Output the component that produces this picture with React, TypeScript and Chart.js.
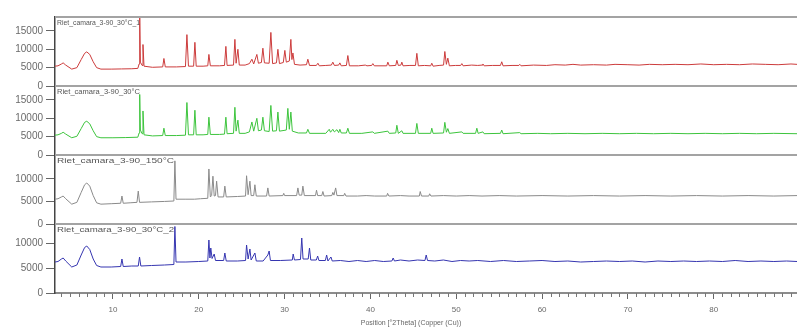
import { useEffect, useRef } from "react";
import { Chart, registerables } from "chart.js";

Chart.register(...registerables);

// ---------- data ----------
const seriesLabels = [
  "Riet_camara_3-90_30°C_1",
  "Riet_camara_3-90_30°C",
  "Riet_camara_3-90_150°C",
  "Riet_camara_3-90_30°C_2",
];
const xAxisTitle = "Position [°2Theta] (Copper (Cu))";
const xMin = 3.25;
const xMax = 89.7;
const xTickValues = [10, 20, 30, 40, 50, 60, 70, 80];
const redTicks = [0, 5000, 10000, 15000];
const greenTicks = [0, 5000, 10000, 15000];
const grayTicks = [0, 5000, 10000];
const blueTicks = [0, 5000, 10000];
const panelMax = [18800, 18800, 15300, 13800];

const red30C1: [number, number][] = [
  [3.25, 5400], [3.6, 5500], [4.0, 6000], [4.2, 6300], [4.5, 5700], [5.2, 4600], [5.8, 5000],
  [6.3, 7200], [6.7, 8900], [6.95, 9300], [7.3, 8600], [7.7, 6600], [8.1, 5000], [8.6, 4600],
  [9.8, 4600], [11.0, 4650], [12.2, 4700], [12.9, 4800], [13.05, 6000], [13.12, 19500], [13.2, 6500],
  [13.4, 5600], [13.5, 11300], [13.62, 5400], [14.6, 5100], [15.8, 5200], [15.94, 7500], [16.1, 5200],
  [17.4, 5200], [18.45, 5300], [18.62, 14000], [18.8, 5400], [19.4, 5400], [19.55, 11900], [19.7, 5400],
  [20.5, 5400], [21.05, 5500], [21.18, 8600], [21.35, 5500], [22.4, 5500], [23.0, 5600], [23.16, 10800],
  [23.3, 5600], [24.05, 5700], [24.21, 12700], [24.35, 6200], [24.56, 10000], [24.72, 5700], [25.4, 5700],
  [25.9, 6100], [26.19, 7300], [26.4, 6000], [26.77, 8600], [26.95, 6200], [27.3, 6400], [27.47, 10300],
  [27.65, 6300], [28.2, 6200], [28.4, 14600], [28.6, 6100], [29.05, 6300], [29.22, 10000], [29.4, 6100],
  [29.85, 6400], [30.03, 9700], [30.2, 6500], [30.55, 6800], [30.73, 12700], [30.85, 7200], [30.97, 9000],
  [31.15, 5900], [31.8, 5700], [32.55, 5800], [32.71, 7300], [32.9, 5600], [33.7, 5600], [33.88, 6200],
  [34.05, 5500], [34.8, 5600], [35.45, 5700], [35.62, 6500], [35.8, 5600], [36.3, 5700], [36.44, 6300],
  [36.6, 5500], [37.2, 5600], [37.37, 8300], [37.55, 5500], [38.6, 5500], [39.4, 5700], [39.6, 5500],
  [40.15, 5600], [40.28, 6100], [40.45, 5500], [41.9, 5500], [42.03, 6500], [42.2, 5500], [42.95, 5600],
  [43.08, 7000], [43.25, 5600], [43.55, 5700], [43.66, 6500], [43.8, 5500], [44.6, 5600], [45.25, 5600],
  [45.41, 8900], [45.58, 5500], [46.3, 5600], [47.02, 5500], [47.15, 6200], [47.3, 5400], [48.0, 5600],
  [48.52, 5700], [48.67, 9400], [48.85, 5900], [49.02, 7600], [49.2, 5500], [49.9, 5600], [50.52, 5600],
  [50.65, 6100], [50.8, 5500], [51.8, 5700], [52.5, 5600], [53.0, 5700], [53.1, 6000], [53.25, 5500],
  [54.2, 5600], [55.15, 5600], [55.3, 6600], [55.45, 5500], [56.5, 5600], [57.3, 5600], [57.4, 5900],
  [57.55, 5500], [59.0, 5700], [60.5, 5600], [61.5, 5800], [62.7, 5700], [63.6, 5900], [64.5, 5700],
  [66.0, 5800], [67.5, 5700], [68.5, 5900], [70.0, 5800], [71.3, 5700], [72.5, 5900], [74.0, 5800],
  [75.5, 5900], [77.0, 5800], [78.5, 6000], [80.0, 5800], [81.5, 5900], [83.0, 5800], [84.5, 6000],
  [86.0, 5900], [87.5, 5800], [89.0, 6000], [89.7, 5900],
];

const green30C: [number, number][] = [
  [3.25, 5400], [3.6, 5500], [4.0, 5900], [4.2, 6200], [4.5, 5700], [5.2, 4700], [5.8, 5100],
  [6.3, 7200], [6.7, 8900], [6.95, 9200], [7.3, 8500], [7.7, 6600], [8.1, 5000], [8.6, 4700],
  [10.0, 4700], [11.5, 4750], [12.9, 4850], [13.05, 6000], [13.12, 16500], [13.2, 6800], [13.4, 5800],
  [13.5, 12000], [13.62, 5500], [14.6, 5200], [15.8, 5300], [15.94, 7300], [16.1, 5300], [17.4, 5300],
  [18.45, 5400], [18.62, 14300], [18.8, 5500], [19.4, 5500], [19.55, 12200], [19.7, 5500], [20.5, 5500],
  [21.05, 5600], [21.18, 10300], [21.35, 5600], [22.4, 5600], [23.0, 5700], [23.16, 10300], [23.3, 5800],
  [24.05, 5900], [24.21, 13000], [24.35, 6500], [24.56, 9500], [24.72, 5900], [25.4, 5900], [25.9, 6300],
  [26.19, 9000], [26.4, 6500], [26.77, 10000], [26.95, 6600], [27.3, 6800], [27.47, 10300], [27.65, 6600],
  [28.2, 6400], [28.4, 13500], [28.6, 6500], [29.05, 6600], [29.22, 11700], [29.4, 6500], [30.2, 6800],
  [30.38, 12700], [30.55, 7000], [30.73, 11700], [30.9, 6500], [31.6, 6000], [32.55, 6000], [32.71, 7000],
  [32.9, 5900], [34.8, 5900], [35.2, 7000], [35.35, 6200], [35.62, 7000], [35.8, 6300], [36.1, 6900],
  [36.3, 6100], [36.44, 7000], [36.6, 6000], [37.2, 6000], [37.37, 7300], [37.55, 5900], [39.0, 5900],
  [40.28, 6300], [40.45, 5900], [42.03, 6500], [42.2, 5900], [42.95, 6000], [43.08, 8100], [43.25, 5900],
  [43.66, 6600], [43.8, 5900], [45.25, 5900], [45.41, 8600], [45.58, 5900], [47.02, 5900], [47.15, 7300],
  [47.3, 5900], [48.52, 6000], [48.67, 8900], [48.85, 6200], [49.02, 7200], [49.2, 5900], [50.65, 6300],
  [50.8, 5900], [52.25, 5900], [52.4, 7300], [52.55, 5900], [53.1, 6300], [53.25, 5800], [55.15, 5900],
  [55.3, 6800], [55.45, 5800], [57.4, 6100], [57.55, 5800], [59.5, 5900], [61.0, 5800], [63.0, 5900],
  [65.0, 5800], [67.0, 5900], [69.0, 5800], [71.0, 5900], [73.0, 5800], [75.0, 5900], [77.0, 5800],
  [79.0, 5900], [81.0, 5800], [83.0, 5900], [85.0, 5800], [87.0, 5900], [89.7, 5800],
];

const gray150C: [number, number][] = [
  [3.25, 5500], [3.6, 5600], [4.0, 6000], [4.2, 6200], [4.5, 5600], [5.2, 4400], [5.8, 4800],
  [6.3, 7000], [6.7, 8700], [6.95, 9100], [7.3, 8400], [7.7, 6300], [8.1, 4700], [8.6, 4400],
  [9.8, 4500], [10.9, 4600], [11.05, 6200], [11.2, 4600], [12.0, 4700], [12.8, 4800], [12.95, 7300],
  [13.1, 4800], [14.5, 4900], [16.0, 5000], [17.1, 5100], [17.22, 14000], [17.35, 5500], [18.5, 5500],
  [19.5, 5500], [20.2, 5600], [21.05, 5700], [21.18, 12200], [21.35, 6000], [21.5, 6300], [21.65, 10600],
  [21.8, 6200], [21.95, 6300], [22.08, 9500], [22.25, 6000], [22.9, 6000], [23.04, 8400], [23.2, 6000],
  [24.5, 6100], [25.45, 6200], [25.57, 10700], [25.75, 6500], [25.85, 6500], [25.96, 9500], [26.1, 6300],
  [26.4, 6300], [26.54, 8700], [26.7, 6200], [27.9, 6200], [28.05, 8000], [28.2, 6200], [29.8, 6300],
  [29.9, 6800], [30.0, 6300], [31.4, 6300], [31.55, 8000], [31.7, 6400], [32.0, 6400], [32.13, 8400],
  [32.3, 6300], [33.6, 6300], [33.72, 7500], [33.85, 6300], [34.33, 6300], [34.46, 7200], [34.6, 6200],
  [35.5, 6300], [35.62, 7000], [35.75, 6400], [35.95, 8000], [36.1, 6300], [36.9, 6300], [37.0, 6800],
  [37.15, 6200], [38.5, 6200], [39.5, 6300], [40.5, 6200], [41.9, 6200], [42.0, 6800], [42.15, 6200],
  [43.5, 6300], [44.5, 6200], [45.7, 6200], [45.8, 7200], [45.95, 6200], [46.8, 6200], [46.9, 6700],
  [47.05, 6200], [48.5, 6300], [50.0, 6200], [51.5, 6300], [53.0, 6200], [55.0, 6300], [57.0, 6200],
  [60.0, 6300], [63.0, 6200], [66.0, 6300], [69.0, 6200], [72.0, 6300], [75.0, 6200], [78.0, 6300],
  [81.0, 6200], [84.0, 6300], [87.0, 6200], [89.7, 6300],
];

const blue30C2: [number, number][] = [
  [3.25, 6200], [3.6, 6300], [4.0, 6800], [4.2, 7000], [4.5, 6400], [5.2, 5200], [5.8, 5600],
  [6.3, 7600], [6.7, 9100], [6.95, 9400], [7.3, 8700], [7.7, 6800], [8.1, 5500], [8.6, 5200],
  [9.8, 5200], [10.9, 5300], [11.05, 6800], [11.2, 5300], [12.2, 5400], [12.95, 5400], [13.1, 7200],
  [13.25, 5400], [14.5, 5500], [16.0, 5600], [17.1, 5700], [17.22, 13300], [17.35, 6200], [18.5, 6200],
  [20.0, 6300], [21.05, 6400], [21.18, 10600], [21.3, 7000], [21.4, 9000], [21.55, 6900], [21.8, 7800],
  [21.95, 6500], [22.9, 6500], [23.04, 8000], [23.2, 6400], [24.5, 6400], [25.45, 6500], [25.57, 9600],
  [25.75, 6800], [25.96, 8800], [26.1, 6600], [26.54, 8000], [26.7, 6400], [27.5, 6400], [28.05, 7600],
  [28.2, 8400], [28.35, 6500], [29.5, 6500], [30.9, 6600], [31.0, 7800], [31.15, 6600], [31.85, 6700],
  [32.0, 11000], [32.15, 6800], [32.75, 6800], [32.9, 9000], [33.05, 6600], [33.7, 6600], [33.85, 7400],
  [34.0, 6500], [34.75, 6500], [34.9, 7600], [35.05, 6400], [35.4, 7200], [35.55, 6400], [36.5, 6500],
  [37.5, 6300], [38.5, 6500], [39.5, 6300], [40.5, 6500], [41.5, 6300], [42.5, 6400], [42.65, 7000],
  [42.8, 6400], [43.5, 6600], [44.5, 6400], [45.5, 6600], [46.35, 6500], [46.5, 7600], [46.65, 6500],
  [47.5, 6400], [48.5, 6600], [49.5, 6300], [50.5, 6500], [51.5, 6400], [52.5, 6500], [54.0, 6300],
  [55.5, 6500], [57.0, 6300], [58.5, 6400], [60.0, 6500], [61.5, 6300], [63.0, 6400], [64.5, 6200],
  [66.0, 6300], [67.5, 6400], [69.0, 6300], [70.5, 6400], [72.0, 6200], [73.5, 6400], [75.0, 6300],
  [76.5, 6400], [78.0, 6300], [79.5, 6400], [81.0, 6300], [82.5, 6500], [84.0, 6300], [85.5, 6400],
  [87.0, 6300], [88.5, 6400], [89.7, 6300],
];

// ---------- styles ----------
const seriesColors = ["#cc3b3b", "#3cc43c", "#8a8a8a", "#3535b0"];
const labelWidths = [83, 83, 117, 117];
const FONT = '"Liberation Sans", Arial, sans-serif';
const panelIds = ["yRed", "yGreen", "yGray", "yBlue"];

const panelPlugin = {
  id: "panelDecor",
  afterDraw(chart: any) {
    const ctx = chart.ctx as CanvasRenderingContext2D;
    const { left, right, bottom } = chart.chartArea;
    ctx.save();
    panelIds.forEach((id, i) => {
      const s = chart.scales[id];
      ctx.strokeStyle = "#a3a3a3";
      ctx.lineWidth = 2;
      ctx.beginPath();
      ctx.moveTo(left, s.top);
      ctx.lineTo(right, s.top);
      ctx.stroke();
      ctx.font = `8px ${FONT}`;
      ctx.fillStyle = "#555";
      ctx.textBaseline = "top";
      ctx.textAlign = "left";
      const text = seriesLabels[i];
      const w = ctx.measureText(text).width;
      ctx.save();
      ctx.translate(left + 2, s.top + 2);
      ctx.scale(labelWidths[i] / w, 1);
      ctx.fillText(text, 0, 0);
      ctx.restore();
    });
    const x = chart.scales.x;
    ctx.strokeStyle = "#777";
    ctx.lineWidth = 1;
    for (let v = Math.ceil(x.min); v <= x.max; v++) {
      if (v % 10 === 0) continue;
      const px = Math.round(x.getPixelForValue(v)) + 0.5;
      ctx.beginPath();
      ctx.moveTo(px, bottom);
      ctx.lineTo(px, bottom + 4);
      ctx.stroke();
    }
    ctx.font = `7px ${FONT}`;
    ctx.fillStyle = "#666";
    ctx.textAlign = "center";
    ctx.textBaseline = "middle";
    ctx.fillText(xAxisTitle, (left + right) / 2 - 15, bottom + 30);
    ctx.restore();
  },
};

function yScale(max: number, ticks: number[]) {
  return {
    type: "linear",
    position: "left",
    stack: "panels",
    stackWeight: 1,
    min: 0,
    max,
    afterBuildTicks: (s: any) => {
      s.ticks = ticks.map((v) => ({ value: v }));
    },
    afterFit: (s: any) => {
      s.width = 55;
    },
    ticks: {
      color: "#6a6a6a",
      font: { size: 10, family: FONT },
      padding: 3,
      autoSkip: false,
      callback: (v: any) => String(v),
    },
    grid: {
      display: true,
      drawOnChartArea: false,
      drawTicks: true,
      tickLength: 9,
      color: "#666",
    },
    border: { display: true, color: "#444", width: 1.5 },
  };
}

export default function App() {
  const canvasRef = useRef<HTMLCanvasElement | null>(null);

  useEffect(() => {
    if (!canvasRef.current) return;
    const all = [red30C1, green30C, gray150C, blue30C2];
    const chart = new Chart(canvasRef.current, {
      type: "line",
      data: {
        datasets: all.map((arr, i) => ({
          label: seriesLabels[i],
          data: arr.map(([x, y]) => ({ x, y })),
          yAxisID: panelIds[i],
          borderColor: seriesColors[i],
          borderWidth: 1,
          pointRadius: 0,
          tension: 0,
          fill: false,
        })),
      },
      options: {
        responsive: false,
        animation: false,
        events: [],
        layout: { padding: { top: 17, left: 0, right: 0, bottom: 0 } },
        plugins: { legend: { display: false }, tooltip: { enabled: false } },
        scales: {
          x: {
            type: "linear",
            min: xMin,
            max: xMax,
            afterBuildTicks: (s: any) => {
              s.ticks = xTickValues.map((v) => ({ value: v }));
            },
            afterFit: (s: any) => {
              s.height = 36;
            },
            ticks: {
              color: "#6a6a6a",
              font: { size: 8, family: FONT },
              padding: 6,
              maxRotation: 0,
              autoSkip: false,
            },
            grid: {
              display: true,
              drawOnChartArea: false,
              drawTicks: true,
              tickLength: 6,
              color: "#666",
            },
            border: { display: true, color: "#8c8c8c", width: 2 },
          },
          yBlue: yScale(panelMax[3], blueTicks),
          yGray: yScale(panelMax[2], grayTicks),
          yGreen: yScale(panelMax[1], greenTicks),
          yRed: yScale(panelMax[0], redTicks),
        } as any,
      },
      plugins: [panelPlugin],
    } as any);
    return () => chart.destroy();
  }, []);

  return (
    <div style={{ position: "fixed", left: 0, top: 0, width: 797, height: 329, background: "#fff" }}>
      <canvas ref={canvasRef} width={797} height={329} style={{ display: "block" }} />
    </div>
  );
}
